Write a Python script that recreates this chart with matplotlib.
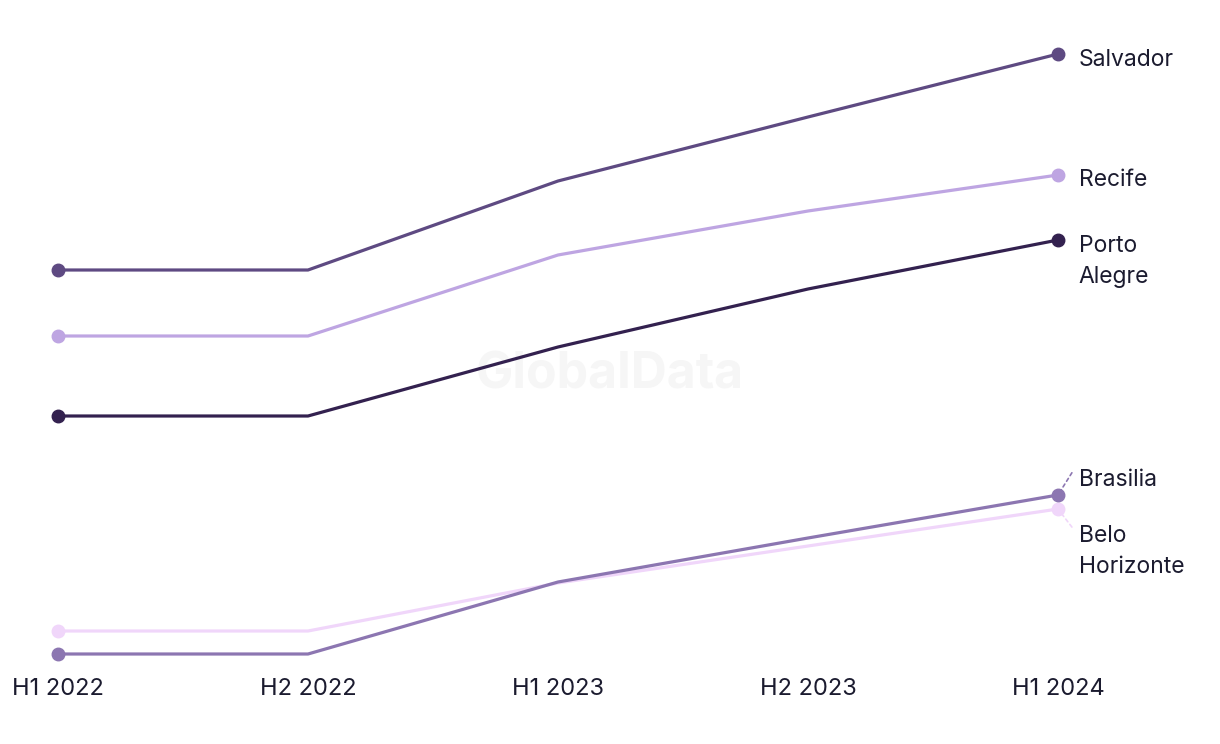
import matplotlib.pyplot as plt

periods = ['H1 2022', 'H2 2022', 'H1 2023', 'H2 2023', 'H1 2024']
cities = ['Salvador', 'Recife', 'Porto Alegre', 'Brasilia', 'Belo Horizonte']
salvador = [43.0, 43.0, 51.9, 58.3, 64.6]
recife = [36.4, 36.4, 44.5, 48.9, 52.5]
porto_alegre = [28.4, 28.4, 35.3, 41.1, 46.0]
brasilia = [4.6, 4.6, 11.8, 16.2, 20.5]
belo_horizonte = [6.9, 6.9, 11.7, 15.4, 19.1]

series = [salvador, recife, porto_alegre, brasilia, belo_horizonte]
colors = ['#5e4a82', '#bea5e2', '#33214f', '#8c76b1', '#f0d6fa']
labels = ['Salvador', 'Recife', 'Porto\nAlegre', 'Brasilia', 'Belo\nHorizonte']
# label offsets (points) from last marker
offsets = [(15, -4.3), (15, -3.6), (15, -15.5), (15, 10.8), (15, -30.5)]
# dashed leader end (points) for the labels that were pushed apart
leaders = [None, None, None, (10, 16), (10, -13)]

plt.rcParams['font.family'] = ['Inter', 'DejaVu Sans']
fig = plt.figure(figsize=(12.2, 7.44), dpi=100)
ax = fig.add_axes([58 / 1220, (744 - 660) / 744, 1000 / 1220, 620 / 744])

x = list(range(len(periods)))
for vals, col, lab, off, lead in zip(series[::-1], colors[::-1], labels[::-1], offsets[::-1], leaders[::-1]):
    ax.plot(x, vals, color=col, lw=2.3, zorder=3, solid_capstyle='round', clip_on=False)
    ax.plot([x[0], x[-1]], [vals[0], vals[-1]], 'o', color=col, ms=9, zorder=4, clip_on=False)
    ax.annotate(lab, (x[-1], vals[-1]), xytext=off, textcoords='offset points',
                fontsize=16.5, color='#1b1b2f', va='center', ha='left',
                linespacing=1.5, annotation_clip=False)
    if lead:
        ax.annotate('', xy=(x[-1], vals[-1]), xytext=lead, textcoords='offset points',
                    arrowprops=dict(arrowstyle='-', color=col, lw=1.2, ls=(0, (2, 2)),
                                    shrinkA=0, shrinkB=3), annotation_clip=False)

# watermark, behind the lines
ax.text(0.5, 0.496, 'GlobalData', transform=fig.transFigure, ha='center', va='center',
        fontsize=36, fontweight='bold', color='#f6f6f6', zorder=1)

ax.set_xlim(0, 4)
ax.set_ylim(4.0, 66.0)
ax.set_xticks(x)
ax.set_xticklabels(periods, fontsize=17, color='#1b1b2f')
ax.tick_params(axis='x', length=0, pad=13)
ax.set_yticks([])
for s in ax.spines.values():
    s.set_visible(False)

fig.savefig('out.png', dpi=100)
